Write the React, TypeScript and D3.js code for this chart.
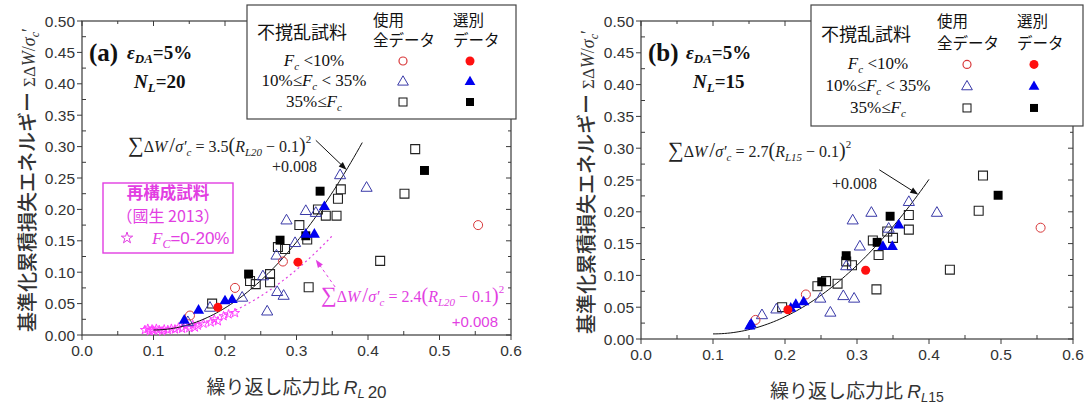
import React from 'react';
import * as d3 from 'd3';

type Pt = [number, number];

// ---- panel (a): N_L = 20 ----
const A_OPEN_CIRCLE: Pt[] = [[0.554, 0.175], [0.281, 0.117], [0.214, 0.075], [0.151, 0.031]];
const A_FILL_CIRCLE: Pt[] = [[0.302, 0.116], [0.19, 0.044]];
const A_OPEN_TRI: Pt[] = [
  [0.361, 0.254], [0.398, 0.234], [0.286, 0.182], [0.313, 0.197], [0.327, 0.194], [0.298, 0.146],
  [0.272, 0.126], [0.253, 0.093], [0.273, 0.068], [0.282, 0.062], [0.259, 0.037], [0.224, 0.059],
  [0.179, 0.043], [0.148, 0.02],
];
const A_FILL_TRI: Pt[] = [[0.339, 0.204], [0.313, 0.16], [0.325, 0.16], [0.21, 0.056], [0.2, 0.054], [0.163, 0.039], [0.143, 0.023]];
const A_OPEN_SQ: Pt[] = [
  [0.466, 0.296], [0.451, 0.225], [0.362, 0.232], [0.358, 0.217], [0.341, 0.19], [0.356, 0.19],
  [0.33, 0.2], [0.304, 0.175], [0.315, 0.152], [0.417, 0.118], [0.274, 0.14], [0.284, 0.137],
  [0.317, 0.076], [0.235, 0.086], [0.243, 0.081], [0.263, 0.097], [0.263, 0.084], [0.182, 0.05],
];
const A_FILL_SQ: Pt[] = [[0.479, 0.262], [0.333, 0.229], [0.313, 0.158], [0.277, 0.151], [0.233, 0.097]];
const A_STARS: Pt[] = [
  [0.088, 0.008], [0.092, 0.01], [0.095, 0.006], [0.098, 0.009], [0.1, 0.007], [0.104, 0.01],
  [0.108, 0.008], [0.112, 0.006], [0.115, 0.009], [0.12, 0.008], [0.125, 0.01], [0.13, 0.009],
  [0.135, 0.012], [0.14, 0.01], [0.145, 0.014], [0.15, 0.011], [0.155, 0.016], [0.158, 0.012],
  [0.162, 0.015], [0.17, 0.018], [0.18, 0.02], [0.185, 0.025], [0.19, 0.022], [0.198, 0.03],
  [0.205, 0.033], [0.214, 0.035],
];

// ---- panel (b): N_L = 15 ----
const B_OPEN_CIRCLE: Pt[] = [[0.555, 0.175], [0.229, 0.07], [0.159, 0.03]];
const B_FILL_CIRCLE: Pt[] = [[0.312, 0.108], [0.204, 0.046]];
const B_OPEN_TRI: Pt[] = [
  [0.411, 0.198], [0.372, 0.215], [0.32, 0.198], [0.294, 0.186], [0.344, 0.173], [0.304, 0.145],
  [0.285, 0.114], [0.281, 0.067], [0.296, 0.063], [0.263, 0.041], [0.249, 0.063], [0.188, 0.046],
  [0.168, 0.037],
];
const B_FILL_TRI: Pt[] = [[0.358, 0.179], [0.336, 0.145], [0.349, 0.145], [0.226, 0.058], [0.215, 0.054], [0.208, 0.048], [0.153, 0.023], [0.151, 0.02]];
const B_OPEN_SQ: Pt[] = [
  [0.475, 0.257], [0.469, 0.2016], [0.372, 0.195], [0.372, 0.172], [0.342, 0.169], [0.35, 0.159],
  [0.322, 0.155], [0.33, 0.132], [0.429, 0.109], [0.285, 0.122], [0.293, 0.116], [0.327, 0.078],
  [0.273, 0.087], [0.257, 0.091], [0.245, 0.083], [0.196, 0.05],
];
const B_FILL_SQ: Pt[] = [[0.496, 0.226], [0.346, 0.193], [0.328, 0.152], [0.285, 0.131], [0.251, 0.09]];

// fitted curves: k * (R - 0.1)^2 + 0.008
const A_FIT = { k: 3.5, end: 0.392 };
const A_FIT_RECON = { k: 2.4, end: 0.352 };
const B_FIT = { k: 2.7, end: 0.401 };

const X_TICKS = [0, 0.1, 0.2, 0.3, 0.4, 0.5, 0.6];
const Y_TICKS = [0, 0.05, 0.1, 0.15, 0.2, 0.25, 0.3, 0.35, 0.4, 0.45, 0.5];

const LEGEND_ROWS = ['lt10', 'mid', 'ge35'];

const JP = '"Noto Sans CJK JP", sans-serif';
const SERIF = '"Liberation Serif", "DejaVu Serif", serif';
const SANS = '"Liberation Sans", Arial, sans-serif';
const MAGENTA = '#e23ee2';
const RED_OPEN = '#d8383a';
const RED = '#ff1010';
const BLUE_OPEN = '#3a3aa8';
const BLUE = '#0000f0';

const sym = (type: d3.SymbolType, size: number) => d3.symbol().type(type).size(size)() as string;
const CIRCLE = sym(d3.symbolCircle, 64);
const TRI = sym(d3.symbolTriangle, 54);
const SQUARE = sym(d3.symbolSquare, 80);
const STAR = sym(d3.symbolStar, 26);

function Markers({ pts, path, x, y, fill, stroke, sw = 1 }: any) {
  return (
    <g>
      {pts.map((d: Pt, i: number) => (
        <path key={i} d={path} transform={`translate(${x(d[0])},${y(d[1])})`} fill={fill} stroke={stroke} strokeWidth={sw} />
      ))}
    </g>
  );
}

function fitPath(x: any, y: any, k: number, end: number) {
  const xs = d3.range(0.1, end + 1e-9, 0.004);
  return d3.line<number>().x((r) => x(r)).y((r) => y(k * (r - 0.1) ** 2 + 0.008))(xs) as string;
}

function Legend({ bx, by, w, h }: { bx: number; by: number; w: number; h: number }) {
  const s = h / 114;
  const rowY = [by + 56 * s, by + 76 * s, by + 97 * s];
  const ox = bx + 156;
  const fx = bx + 223;
  const label = (key: string) => {
    if (key === 'lt10')
      return (
        <>
          <tspan fontStyle="italic">F</tspan>
          <tspan fontStyle="italic" fontSize={11} dy={4}>c</tspan>
          <tspan dy={-4}> {'<'}10%</tspan>
        </>
      );
    if (key === 'mid')
      return (
        <>
          <tspan>10%≤</tspan>
          <tspan fontStyle="italic">F</tspan>
          <tspan fontStyle="italic" fontSize={11} dy={4}>c</tspan>
          <tspan dy={-4}> {'<'} 35%</tspan>
        </>
      );
    return (
      <>
        <tspan>35%≤</tspan>
        <tspan fontStyle="italic">F</tspan>
        <tspan fontStyle="italic" fontSize={11} dy={4}>c</tspan>
      </>
    );
  };
  return (
    <g>
      <rect x={bx} y={by} width={w} height={h} fill="#fff" stroke="#444" strokeWidth={1.2} />
      <text x={bx + 10} y={by + 34 * s} fontFamily={JP} fontSize={18} fill="#111">不撹乱試料</text>
      <text x={bx + 126} y={by + 21 * s} fontFamily={JP} fontSize={15.5} fill="#111">使用</text>
      <text x={bx + 126} y={by + 41 * s} fontFamily={JP} fontSize={15.5} fill="#111">全データ</text>
      <text x={bx + 206} y={by + 21 * s} fontFamily={JP} fontSize={15.5} fill="#111">選別</text>
      <text x={bx + 206} y={by + 41 * s} fontFamily={JP} fontSize={15.5} fill="#111">データ</text>
      {LEGEND_ROWS.map((k, i) => (
        <text key={k} x={bx + 67} y={rowY[i] + 5} textAnchor="middle" fontFamily={SERIF} fontSize={17} fill="#111">
          {label(k)}
        </text>
      ))}
      <circle cx={ox} cy={rowY[0]} r={4} fill="#fff" stroke={RED_OPEN} strokeWidth={1.2} />
      <circle cx={fx} cy={rowY[0]} r={4.5} fill={RED} />
      <path d={sym(d3.symbolTriangle, 50)} transform={`translate(${ox},${rowY[1] + 1})`} fill="#fff" stroke={BLUE_OPEN} strokeWidth={1} />
      <path d={sym(d3.symbolTriangle, 50)} transform={`translate(${fx},${rowY[1] + 1})`} fill={BLUE} />
      <rect x={ox - 4} y={rowY[2] - 4} width={8} height={8} fill="#fff" stroke="#111" strokeWidth={1} />
      <rect x={fx - 4} y={rowY[2] - 4} width={8} height={8} fill="#000" />
    </g>
  );
}

function Formula({ x, y, k, sub, color }: { x: number; y: number; k: string; sub: string; color: string }) {
  return (
    <text x={x} y={y} fontFamily={SERIF} fontSize={16} fill={color}>
      <tspan fontSize={22}>∑</tspan>
      <tspan>Δ</tspan>
      <tspan fontStyle="italic">W</tspan>
      <tspan fontSize={21} dx={2}>/</tspan>
      <tspan fontStyle="italic">σ′</tspan>
      <tspan fontStyle="italic" fontSize={11} dy={4}>c</tspan>
      <tspan dy={-4}> = {k}</tspan>
      <tspan fontSize={20}>(</tspan>
      <tspan fontStyle="italic">R</tspan>
      <tspan fontStyle="italic" fontSize={11} dy={4}>{sub}</tspan>
      <tspan dy={-4}> − 0.1</tspan>
      <tspan fontSize={20}>)</tspan>
      <tspan fontSize={11} dy={-9}>2</tspan>
    </text>
  );
}

function Arrow({ x1, y1, x2, y2, color, dash }: any) {
  const a = Math.atan2(y2 - y1, x2 - x1);
  const L = 8;
  const W = 3;
  const p1 = [x2 - L * Math.cos(a) + W * Math.sin(a), y2 - L * Math.sin(a) - W * Math.cos(a)];
  const p2 = [x2 - L * Math.cos(a) - W * Math.sin(a), y2 - L * Math.sin(a) + W * Math.cos(a)];
  return (
    <g>
      <line x1={x1} y1={y1} x2={x2 - (L - 2) * Math.cos(a)} y2={y2 - (L - 2) * Math.sin(a)} stroke={color} strokeWidth={1} strokeDasharray={dash} />
      <path d={`M${x2},${y2}L${p1[0]},${p1[1]}L${p2[0]},${p2[1]}Z`} fill={color} />
    </g>
  );
}

function Panel({ cfg }: { cfg: any }) {
  const { left, right, top, bottom } = cfg;
  const x = d3.scaleLinear().domain([0, 0.6]).range([left, right]);
  const y = d3.scaleLinear().domain([0, 0.5]).range([bottom, top]);
  const xMinor = d3.range(0, 0.6001, 0.05);
  const yMinor = d3.range(0, 0.5001, 0.025);
  const isMajorX = (v: number) => Math.abs(v * 10 - Math.round(v * 10)) < 1e-6;
  const isMajorY = (v: number) => Math.abs(v * 20 - Math.round(v * 20)) < 1e-6;
  const stroke = '#3a3a3a';
  const yLabelX = left - 53;
  return (
    <g>
      <rect x={left} y={top} width={right - left} height={bottom - top} fill="none" stroke={stroke} strokeWidth={1.2} />
      {/* bottom & top ticks */}
      {xMinor.map((v, i) => (
        <g key={i}>
          {isMajorX(v) ? (
            <line x1={x(v)} x2={x(v)} y1={bottom} y2={bottom + 5} stroke={stroke} />
          ) : (
            <line x1={x(v)} x2={x(v)} y1={bottom} y2={bottom - 4} stroke={stroke} />
          )}
          <line x1={x(v)} x2={x(v)} y1={top} y2={top + (isMajorX(v) ? 5 : 3)} stroke={stroke} />
        </g>
      ))}
      {yMinor.map((v, i) => (
        <g key={i}>
          {isMajorY(v) ? (
            <line x1={left} x2={left - 5} y1={y(v)} y2={y(v)} stroke={stroke} />
          ) : (
            <line x1={left} x2={left + 4} y1={y(v)} y2={y(v)} stroke={stroke} />
          )}
          <line x1={right} x2={right - (isMajorY(v) ? 5 : 3)} y1={y(v)} y2={y(v)} stroke={stroke} />
        </g>
      ))}
      {X_TICKS.map((v) => (
        <text key={v} x={x(v)} y={bottom + 21} textAnchor="middle" fontFamily={SANS} fontSize={15.5} fill="#333">
          {v.toFixed(1)}
        </text>
      ))}
      {Y_TICKS.map((v) => (
        <text key={v} x={left - 7} y={y(v) + 5.5} textAnchor="end" fontFamily={SANS} fontSize={15.5} fill="#333">
          {v.toFixed(2)}
        </text>
      ))}
      {/* axis titles */}
      <text transform={`translate(${yLabelX + 6},${(top + bottom) / 2 + 2}) rotate(-90)`} textAnchor="middle" fill="#333">
        <tspan fontFamily={JP} fontSize={20} fontWeight={500}>基準化累積損失エネルギー</tspan>
        <tspan fontFamily={SERIF} fontSize={17} dx={5}>ΣΔ</tspan>
        <tspan fontFamily={SERIF} fontSize={18} fontStyle="italic">W</tspan>
        <tspan fontFamily={SERIF} fontSize={18}>/</tspan>
        <tspan fontFamily={SERIF} fontSize={18} fontStyle="italic">σ</tspan>
        <tspan fontFamily={SERIF} fontSize={12} fontStyle="italic" dy={4}>c</tspan>
        <tspan fontFamily={SERIF} fontSize={18} dy={-4}>′</tspan>
      </text>
      <text x={(left + right) / 2} y={cfg.titleY} textAnchor="middle" fill="#333">
        <tspan fontFamily={JP} fontSize={19}>繰り返し応力比 </tspan>
        <tspan fontFamily={SANS} fontSize={19} fontStyle="italic">R</tspan>
        <tspan fontFamily={SANS} fontSize={13} fontStyle="italic" dy={4}>L</tspan>
        <tspan fontFamily={SANS} fontSize={cfg.subBig ? 17 : 14} dx={cfg.subBig ? 3 : 0}>{cfg.sub}</tspan>
      </text>
      {/* panel id */}
      <text x={left + 7} y={top + 40} fontFamily={SERIF} fontSize={25} fontWeight="bold" fill="#111">
        ({cfg.id})
      </text>
      <text x={left + 45} y={top + 38} fontFamily={SERIF} fontSize={19} fontWeight="bold" fill="#111">
        <tspan fontStyle="italic">ε</tspan>
        <tspan fontStyle="italic" fontSize={13} dy={4}>DA</tspan>
        <tspan dy={-4}>=5%</tspan>
      </text>
      <text x={left + 52} y={top + 67} fontFamily={SERIF} fontSize={19} fontWeight="bold" fill="#111">
        <tspan fontStyle="italic">N</tspan>
        <tspan fontStyle="italic" fontSize={13} dy={4}>L</tspan>
        <tspan dy={-4}>={cfg.nl}</tspan>
      </text>
      {cfg.children(x, y)}
      <Legend bx={cfg.legend[0]} by={5} w={cfg.legend[1]} h={cfg.legend[2]} />
    </g>
  );
}

const PANEL_A = {
  id: 'a', nl: '20', sub: '20', subBig: true, left: 82, right: 511, top: 21, bottom: 335, titleY: 394, legend: [247, 269, 114],
  children: (x: any, y: any) => (
    <g>
      <path d={fitPath(x, y, A_FIT_RECON.k, A_FIT_RECON.end)} fill="none" stroke={MAGENTA} strokeWidth={1.2} strokeDasharray="2,3" />
      <Markers pts={A_STARS} path={STAR} x={x} y={y} fill="none" stroke="#ff40ff" sw={1} />
      <path d={fitPath(x, y, A_FIT.k, A_FIT.end)} fill="none" stroke="#111" strokeWidth={1} />
      <Markers pts={A_OPEN_SQ} path={SQUARE} x={x} y={y} fill="none" stroke="#222" sw={1.1} />
      <Markers pts={A_OPEN_TRI} path={TRI} x={x} y={y} fill="none" stroke={BLUE_OPEN} sw={1} />
      <Markers pts={A_OPEN_CIRCLE} path={CIRCLE} x={x} y={y} fill="none" stroke={RED_OPEN} sw={1} />
      <Markers pts={A_FILL_SQ} path={SQUARE} x={x} y={y} fill="#000" stroke="none" />
      <Markers pts={A_FILL_TRI} path={TRI} x={x} y={y} fill={BLUE} stroke="none" />
      <Markers pts={A_FILL_CIRCLE} path={CIRCLE} x={x} y={y} fill={RED} stroke="none" />
      <Formula x={128} y={152} k="3.5" sub="L20" color="#222" />
      <text x={272} y={172} fontFamily={SERIF} fontSize={16} fill="#222">+0.008</text>
      <Arrow x1={x(0.327)} y1={y(0.31)} x2={x(0.37)} y2={y(3.5 * 0.27 ** 2 + 0.008)} color="#111" />
      <Formula x={321} y={302} k="2.4" sub="L20" color={MAGENTA} />
      <text x={498} y={327} textAnchor="end" fontFamily={SANS} fontSize={15} fill={MAGENTA}>+0.008</text>
      <Arrow x1={x(0.354)} y1={y(0.0765)} x2={x(0.327)} y2={y(0.12)} color={MAGENTA} dash="3,3" />
      <rect x={103} y={183} width={130} height={70} fill="none" stroke={MAGENTA} strokeWidth={1.4} />
      <text x={168} y={199} textAnchor="middle" fontFamily={JP} fontSize={16.5} fontWeight={700} fill={MAGENTA}>再構成試料</text>
      <text x={168} y={222} textAnchor="middle" fontFamily={JP} fontSize={16} fill={MAGENTA}>（國生 2013）</text>
      <path d={sym(d3.symbolStar, 40)} transform={`translate(${127},${238})`} fill="none" stroke={MAGENTA} />
      <text x={152} y={244} fontFamily={SERIF} fontSize={17} fill={MAGENTA}>
        <tspan fontStyle="italic">F</tspan>
        <tspan fontStyle="italic" fontSize={12} dy={4}>C</tspan>
        <tspan dy={-4} fontFamily={SANS}>=0-20%</tspan>
      </text>
    </g>
  ),
};

const PANEL_B = {
  id: 'b', nl: '15', sub: '15', subBig: false, left: 641, right: 1073, top: 21, bottom: 339, titleY: 398, legend: [811, 272, 121],
  children: (x: any, y: any) => (
    <g>
      <path d={fitPath(x, y, B_FIT.k, B_FIT.end)} fill="none" stroke="#111" strokeWidth={1} />
      <Markers pts={B_OPEN_SQ} path={SQUARE} x={x} y={y} fill="none" stroke="#222" sw={1.1} />
      <Markers pts={B_OPEN_TRI} path={TRI} x={x} y={y} fill="none" stroke={BLUE_OPEN} sw={1} />
      <Markers pts={B_OPEN_CIRCLE} path={CIRCLE} x={x} y={y} fill="none" stroke={RED_OPEN} sw={1} />
      <Markers pts={B_FILL_SQ} path={SQUARE} x={x} y={y} fill="#000" stroke="none" />
      <Markers pts={B_FILL_TRI} path={TRI} x={x} y={y} fill={BLUE} stroke="none" />
      <Markers pts={B_FILL_CIRCLE} path={CIRCLE} x={x} y={y} fill={RED} stroke="none" />
      <Formula x={668} y={157} k="2.7" sub="L15" color="#222" />
      <text x={832} y={189} fontFamily={SERIF} fontSize={16} fill="#222">+0.008</text>
      <Arrow x1={x(0.331)} y1={y(0.266)} x2={x(0.385)} y2={y(2.7 * 0.285 ** 2 + 0.008)} color="#111" />
    </g>
  ),
};

export default function App() {
  return (
    <svg width={1086} height={407} style={{ position: 'absolute', left: 0, top: 0, background: '#fff' }}>
      <rect width={1086} height={407} fill="#fff" />
      <Panel cfg={PANEL_A} />
      <Panel cfg={PANEL_B} />
    </svg>
  );
}
